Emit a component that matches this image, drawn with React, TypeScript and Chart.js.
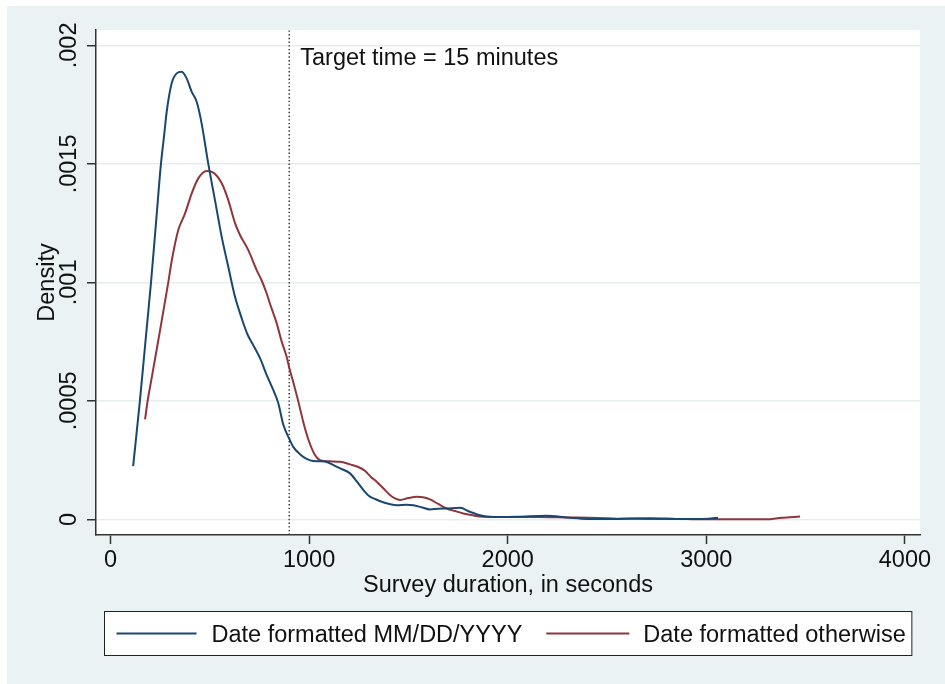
import React, { useEffect, useRef } from "react";
import { Chart, registerables } from "chart.js";

Chart.register(...registerables);

// ---- data ----
const mmddX = [114, 148, 176, 204, 229, 254, 270, 283, 308, 333, 358, 384, 409, 434, 459, 492, 526, 560, 593, 627, 660, 690, 719, 753, 786, 820, 845, 870, 900, 920, 954, 988, 1021, 1055, 1089, 1120, 1156, 1206, 1240, 1273, 1300, 1332, 1380, 1441, 1490, 1525, 1570, 1609, 1650, 1693, 1760, 1810, 1877, 1960, 2050, 2196, 2300, 2400, 2520, 2620, 2720, 2850, 2950, 3010, 3059];
const mmddY = [0.000225, 0.0005, 0.00075, 0.001, 0.00125, 0.0015, 0.00162, 0.00172, 0.00184, 0.001882, 0.001889, 0.00186, 0.001804, 0.001762, 0.00167, 0.001502, 0.001347, 0.001192, 0.001066, 0.000939, 0.00085, 0.00078, 0.000735, 0.00068, 0.00061, 0.000545, 0.00049, 0.0004, 0.00034, 0.000306, 0.000275, 0.000255, 0.000246, 0.000245, 0.000242, 0.00023, 0.000215, 0.000194, 0.00016, 0.000124, 0.0001, 0.000086, 0.00007, 0.00006, 0.000062, 0.00006, 0.00005, 0.000042, 0.000045, 0.000046, 0.000049, 0.000032, 0.000014, 0.00001, 0.000011, 0.000015, 0.000008, 0.000002, 0.000001, 0.000004, 0.000005, 0.000002, 0.000001, 0.000003, 0.000007];

const otherX = [174, 187, 207, 241, 291, 308, 341, 375, 409, 442, 484, 518, 560, 593, 627, 652, 694, 736, 760, 786, 803, 837, 862, 887, 900, 920, 945, 971, 995, 1021, 1040, 1055, 1100, 1156, 1206, 1245, 1281, 1310, 1340, 1375, 1407, 1430, 1458, 1500, 1542, 1580, 1609, 1650, 1693, 1735, 1776, 1830, 1877, 1950, 2050, 2150, 2300, 2450, 2550, 2700, 2900, 3100, 3300, 3380, 3472];
const otherY = [0.000422, 0.0005, 0.000595, 0.000757, 0.001, 0.00109, 0.00122, 0.00129, 0.001376, 0.001439, 0.00147, 0.001463, 0.001418, 0.001347, 0.00125, 0.0012, 0.001136, 0.001052, 0.00101, 0.000954, 0.00091, 0.000827, 0.00075, 0.000686, 0.00064, 0.00058, 0.0005, 0.00041, 0.00034, 0.000285, 0.00026, 0.00025, 0.000245, 0.000243, 0.000232, 0.000222, 0.000205, 0.00018, 0.000159, 0.00013, 0.000103, 0.00009, 0.000082, 0.00009, 0.000095, 0.000092, 0.000084, 0.000065, 0.000046, 0.000035, 0.000025, 0.000016, 0.000011, 0.00001, 0.00001, 0.00001, 0.000008, 0.000006, 0.000003, 0.000002, 0.000001, 0.0000005, 0.0000005, 0.000007, 0.000012];

const seriesLabels = ["Date formatted MM/DD/YYYY", "Date formatted otherwise"];
const seriesColors = ["#1a476f", "#90353b"];

const xTicks = [0, 1000, 2000, 3000, 4000];
const xTickLabels = ["0", "1000", "2000", "3000", "4000"];
const yTicks = [0, 0.0005, 0.001, 0.0015, 0.002];
const yTickLabels = ["0", ".0005", ".001", ".0015", ".002"];
const xRange = [-73, 4076];
const yRange = [-0.000066, 0.002065];

const targetSeconds = 900;
const annotationText = "Target time = 15 minutes";
const xTitle = "Survey duration, in seconds";
const yTitle = "Density";

const FONT = '"Liberation Sans", Arial, Helvetica, sans-serif';
const FS = 23.5;
const TEXT_COLOR = "#111";
const AXIS_COLOR = "#333";

const decor = {
  id: "decor",
  beforeDraw(chart: any) {
    const { ctx, chartArea: a } = chart;
    ctx.save();
    ctx.fillStyle = "#ffffff";
    ctx.fillRect(a.left, a.top, a.right - a.left, a.bottom - a.top);
    ctx.restore();
  },
  afterDraw(chart: any) {
    const { ctx, chartArea: a, scales } = chart;
    const xs = scales.x;
    const ys = scales.y;
    ctx.save();
    ctx.fillStyle = TEXT_COLOR;
    ctx.font = `${FS}px ${FONT}`;
    ctx.textBaseline = "alphabetic";

    // x tick labels
    ctx.textAlign = "center";
    xTicks.forEach((v, i) => {
      ctx.fillText(xTickLabels[i], xs.getPixelForValue(v), a.bottom + 32);
    });
    // x title
    ctx.fillText(xTitle, (a.left + a.right) / 2, a.bottom + 57);

    // y tick labels (rotated)
    yTicks.forEach((v, i) => {
      ctx.save();
      ctx.translate(a.left - 20, ys.getPixelForValue(v));
      ctx.rotate(-Math.PI / 2);
      ctx.fillText(yTickLabels[i], 0, 0);
      ctx.restore();
    });
    // y title
    ctx.save();
    ctx.translate(a.left - 42, (a.top + a.bottom) / 2);
    ctx.rotate(-Math.PI / 2);
    ctx.fillText(yTitle, 0, 0);
    ctx.restore();

    // annotation
    ctx.textAlign = "left";
    ctx.fillText(annotationText, xs.getPixelForValue(targetSeconds) + 11, a.top + 35);

    // legend
    const w1 = ctx.measureText(seriesLabels[0]).width;
    const w2 = ctx.measureText(seriesLabels[1]).width;
    const W = 234 + w1 + w2;
    const bx = Math.round((a.left + a.right) / 2 - W / 2) + 0.5;
    const by = a.bottom + 76.5;
    const bh = 44;
    ctx.fillStyle = "#ffffff";
    ctx.fillRect(bx, by, W, bh);
    ctx.strokeStyle = "#222";
    ctx.lineWidth = 1;
    ctx.strokeRect(bx, by, W, bh);
    const ly = by + bh / 2;
    const entries = [
      { l0: bx + 12, l1: bx + 92, t: bx + 107 },
      { l0: bx + 131 + w1, l1: bx + 214 + w1, t: bx + 228 + w1 },
    ];
    entries.forEach((e, i) => {
      ctx.strokeStyle = seriesColors[i];
      ctx.lineWidth = 2;
      ctx.beginPath();
      ctx.moveTo(e.l0, ly);
      ctx.lineTo(e.l1, ly);
      ctx.stroke();
      ctx.fillStyle = TEXT_COLOR;
      ctx.fillText(seriesLabels[i], e.t, ly + 8.5);
    });
    ctx.restore();
  },
};

export default function App() {
  const ref = useRef<HTMLCanvasElement | null>(null);

  useEffect(() => {
    if (!ref.current) return;
    const chart = new Chart(ref.current, {
      type: "line",
      data: {
        datasets: [
          {
            label: seriesLabels[0],
            data: mmddX.map((x, i) => ({ x, y: mmddY[i] })),
            borderColor: seriesColors[0],
            borderWidth: 2,
            pointRadius: 0,
            cubicInterpolationMode: "monotone",
            fill: false,
          },
          {
            label: seriesLabels[1],
            data: otherX.map((x, i) => ({ x, y: otherY[i] })),
            borderColor: seriesColors[1],
            borderWidth: 2,
            pointRadius: 0,
            cubicInterpolationMode: "monotone",
            fill: false,
          },
          {
            label: "target",
            data: [
              { x: targetSeconds, y: yRange[0] },
              { x: targetSeconds, y: yRange[1] },
            ],
            borderColor: "#3a3a3a",
            borderWidth: 1.5,
            borderDash: [1.4, 2.3],
            pointRadius: 0,
            fill: false,
          },
        ],
      } as any,
      options: {
        responsive: false,
        animation: false,
        devicePixelRatio: 1,
        layout: { padding: { top: 30, right: 25, left: 0, bottom: 0 } },
        plugins: {
          legend: { display: false },
          tooltip: { enabled: false },
          title: { display: false },
        },
        scales: {
          x: {
            type: "linear",
            min: xRange[0],
            max: xRange[1],
            afterBuildTicks: (s: any) => {
              s.ticks = xTicks.map((v) => ({ value: v }));
            },
            afterFit: (s: any) => {
              s.height = 149;
            },
            ticks: { display: false },
            grid: {
              drawOnChartArea: false,
              drawTicks: true,
              tickLength: 9,
              tickColor: AXIS_COLOR,
              tickWidth: 1.5,
            },
            border: { display: true, color: AXIS_COLOR, width: 1.5 },
          },
          y: {
            type: "linear",
            min: yRange[0],
            max: yRange[1],
            afterBuildTicks: (s: any) => {
              s.ticks = yTicks.map((v) => ({ value: v }));
            },
            afterFit: (s: any) => {
              s.width = 96;
            },
            ticks: { display: false },
            grid: {
              color: "#e6eef0",
              lineWidth: 1.5,
              drawTicks: true,
              tickLength: 9,
              tickColor: AXIS_COLOR,
              tickWidth: 1.5,
            },
            border: { display: true, color: AXIS_COLOR, width: 1.5 },
          },
        },
      } as any,
      plugins: [decor],
    });
    return () => chart.destroy();
  }, []);

  return (
    <div style={{ position: "fixed", left: 0, top: 0, width: 945, height: 684, background: "#ffffff", overflow: "hidden" }}>
      <div style={{ position: "absolute", left: 7, top: 6, right: 0, bottom: 0, background: "#eaf2f3" }} />
      <canvas ref={ref} width={945} height={684} style={{ position: "absolute", left: 0, top: 0, width: 945, height: 684 }} />
    </div>
  );
}
